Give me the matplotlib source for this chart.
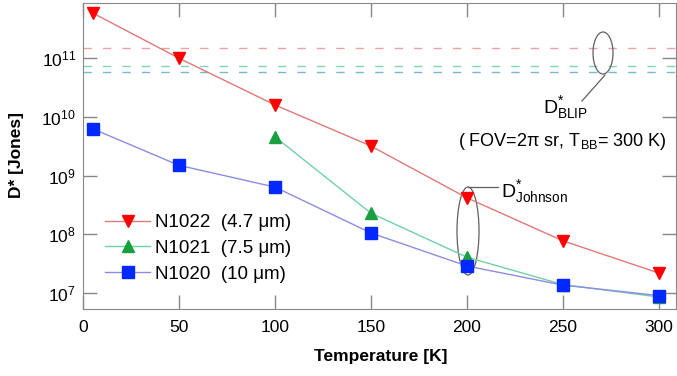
import numpy as np
import matplotlib
matplotlib.use('Agg')
import matplotlib.pyplot as plt
from matplotlib.patches import Ellipse
from matplotlib.lines import Line2D
from matplotlib import rcParams

config = {'font.family': 'Liberation Sans', 'mathtext.fontset': 'custom',
          'mathtext.rm': 'Liberation Sans', 'mathtext.it': 'Liberation Sans:italic',
          'mathtext.bf': 'Liberation Sans:bold', 'font.size': 12,
          'xtick.direction': 'in', 'ytick.direction': 'in',
          'xtick.top': True, 'ytick.right': True,
          'xtick.major.size': 10, 'ytick.major.size': 10,
          'xtick.major.width': 1.0, 'ytick.major.width': 1.0,
          'xtick.color': '#888888', 'ytick.color': '#888888',
          'xtick.labelcolor': 'black', 'ytick.labelcolor': 'black',
          'xtick.labelsize': 12.5, 'ytick.labelsize': 12.5,
          'xtick.major.pad': 8, 'ytick.major.pad': 5}
rcParams.update(config)

# data
temp_1022 = [5, 50, 100, 150, 200, 250, 300]
d_1022 = [5.9e11, 1.0e11, 1.6e10, 3.2e9, 4.2e8, 7.8e7, 2.2e7]
temp_1021 = [100, 150, 200, 250, 300]
d_1021 = [4.6e9, 2.3e8, 4.1e7, 1.4e7, 8.6e6]
temp_1020 = [5, 50, 100, 150, 200, 250, 300]
d_1020 = [6.3e9, 1.5e9, 6.4e8, 1.06e8, 2.9e7, 1.37e7, 9.1e6]
blip = [1.5e11, 7.3e10, 5.8e10]   # N1022, N1021, N1020
labels = ['N1022  (4.7 μm)', 'N1021  (7.5 μm)', 'N1020  (10 μm)']

fig = plt.figure(figsize=(6.77, 3.76), dpi=100)
ax = fig.add_axes([83/677, 1-309/376, (676-83)/677, (309-3)/376])

ax.plot(temp_1022, d_1022, color='#e07878', lw=1.0, marker='v', ms=9,
        mfc='#ff0000', mec='#ff0000', label=labels[0])
ax.plot(temp_1021, d_1021, color='#70d0a8', lw=1.0, marker='^', ms=9,
        mfc='#18a040', mec='#18a040', label=labels[1])
ax.plot(temp_1020, d_1020, color='#8c8ce0', lw=1.0, marker='s', ms=9,
        mfc='#0028ff', mec='#0028ff', label=labels[2])

dash_cols = ['#f0a0a0', '#80d4b4', '#78b8c8']
for val, c in zip(blip, dash_cols):
    ax.axhline(val, color=c, lw=1.0, dashes=(6, 8), zorder=0)

ax.set_yscale('log')
ax.set_xlim(0, 309)
ax.set_ylim(10**6.73, 10**11.94)
ax.set_xticks([0, 50, 100, 150, 200, 250, 300])
ax.set_yticks([1e7, 1e8, 1e9, 1e10, 1e11])
ax.minorticks_off()
for sp in ax.spines.values():
    sp.set_color('#888888')

ax.set_xlabel('Temperature [K]', fontsize=12.5, fontweight='bold')
ax.set_ylabel('D* [Jones]', fontsize=12.5, fontweight='bold')
ax.xaxis.set_label_coords((381-83)/593, -(349-309)/306)
ax.yaxis.set_label_coords(-(83-24)/593, (309-155)/306)

ax.legend(loc='upper left', bbox_to_anchor=(0.025, 0.335), frameon=False,
          fontsize=13.5, handlelength=2.4, handletextpad=0.25,
          labelspacing=0.46, borderaxespad=0)

# ellipses and labels
def fx(px):
    return (px - 83) / 593

def fy(py):
    return (309 - py) / 306

ax.add_patch(Ellipse((fx(603), fy(53)), 20/593, 42/306, transform=ax.transAxes,
                     fill=False, ec='#606060', lw=0.9))
ax.add_line(Line2D([fx(605), fx(582)], [fy(75), fy(101)], transform=ax.transAxes,
                   color='#606060', lw=0.9))
ax.add_patch(Ellipse((fx(468), fy(231)), 22/593, 88/306, transform=ax.transAxes,
                     fill=False, ec='#606060', lw=0.9))
ax.add_line(Line2D([fx(468), fx(498)], [fy(187), fy(187)], transform=ax.transAxes,
                   color='#606060', lw=0.9))

fig.text(543/677, 1-108/376, r'D$^{*}_{\mathrm{BLIP}}$', fontsize=14,
         ha='left', va='center')
fig.text(458/677, 1-141/376, '( FOV=2π sr, T$_{\\mathrm{BB}}$= 300 K)',
         fontsize=13, ha='left', va='center')
fig.text(501/677, 1-192/376, r'D$^{*}_{\mathrm{Johnson}}$', fontsize=14,
         ha='left', va='center')

fig.savefig('out.png', dpi=100)
